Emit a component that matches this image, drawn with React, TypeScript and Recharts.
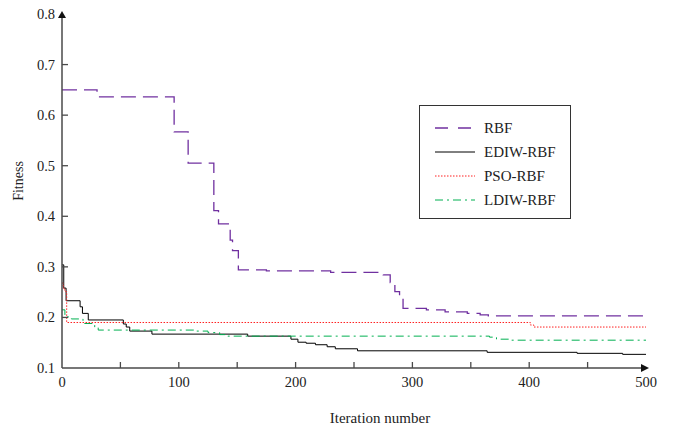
import { LineChart, Line, XAxis, YAxis, Legend } from 'recharts'

// step points: value holds from this iteration until the next point
const RBF_ITER = [0, 30, 96, 108, 130, 134, 144, 146, 151, 175, 230, 275, 281, 285, 289, 292, 312, 328, 347, 358, 365, 500]
const RBF_FIT = [0.65, 0.636, 0.567, 0.505, 0.411, 0.385, 0.353, 0.332, 0.294, 0.292, 0.289, 0.284, 0.269, 0.251, 0.245, 0.218, 0.215, 0.211, 0.208, 0.205, 0.203, 0.203]

const EDIW_ITER = [0, 1.5, 3.5, 15.5, 17.5, 22.5, 52.5, 55, 58, 77, 159, 196, 202, 209, 217, 227, 234, 253, 364, 441, 480, 500]
const EDIW_FIT = [0.304, 0.258, 0.233, 0.221, 0.208, 0.195, 0.187, 0.181, 0.173, 0.167, 0.163, 0.157, 0.151, 0.149, 0.146, 0.142, 0.138, 0.134, 0.131, 0.129, 0.127, 0.127]

const PSO_ITER = [0, 1, 2.5, 4, 401, 404, 500]
const PSO_FIT = [0.268, 0.258, 0.251, 0.19, 0.185, 0.181, 0.181]

const LDIW_ITER = [0, 2.5, 8, 18, 28, 31, 115, 125, 135, 142, 366, 372, 385, 500]
const LDIW_FIT = [0.215, 0.201, 0.197, 0.188, 0.18, 0.175, 0.173, 0.17, 0.166, 0.163, 0.161, 0.157, 0.155, 0.155]

const X_TICKS = [0, 50, 100, 150, 200, 250, 300, 350, 400, 450, 500]
const Y_TICKS = [0.1, 0.2, 0.3, 0.4, 0.5, 0.6, 0.7, 0.8]

const toRows = (xs: number[], ys: number[]) => xs.map((x, i) => ({ iter: x, fit: ys[i] }))

const FONT = '"Liberation Serif", "Times New Roman", serif'
const AXIS = '#4a4a4a'

const SERIES = [
  { name: 'RBF', data: toRows(RBF_ITER, RBF_FIT), color: '#7030A0', dash: '15 7', legendDash: '13 10', width: 1.3 },
  { name: 'EDIW-RBF', data: toRows(EDIW_ITER, EDIW_FIT), color: '#000000', dash: undefined, legendDash: undefined, width: 1 },
  { name: 'PSO-RBF', data: toRows(PSO_ITER, PSO_FIT), color: '#FF2020', dash: '1.5 1.5', legendDash: '1.5 1.5', width: 1 },
  { name: 'LDIW-RBF', data: toRows(LDIW_ITER, LDIW_FIT), color: '#00B050', dash: '8 4 2 4', legendDash: '8 4 2 4', width: 1 },
]

const YTick = ({ x, y, payload }: any) => {
  const v = payload.value
  return (
    <g>
      <text x={x} y={y + 5} textAnchor="end" fontFamily={FONT} fontSize={14.5} fill="#222">
        {v.toFixed(1)}
      </text>
      {v > 0.15 && v < 0.75 && <line x1={x + 7} x2={x + 13} y1={y} y2={y} stroke={AXIS} strokeWidth={1.3} />}
    </g>
  )
}

const XTick = ({ x, y, payload }: any) => {
  const v = payload.value
  return (
    <g>
      {v > 0 && v < 500 && <line x1={x} x2={x} y1={y} y2={y - 6} stroke={AXIS} strokeWidth={1.3} />}
      {v % 100 === 0 && (
        <text x={x} y={y + 19} textAnchor="middle" fontFamily={FONT} fontSize={14.5} fill="#222">
          {v}
        </text>
      )}
    </g>
  )
}

const YDecor = ({ viewBox }: any) => {
  const { x, y, width, height } = viewBox
  const ax = x + width
  return (
    <g>
      <polygon points={`${ax - 4},${y + 4} ${ax + 4},${y + 4} ${ax},${y - 3}`} fill="#111" />
      <text
        x={18}
        y={y + height / 2 - 10}
        transform={`rotate(-90 18 ${y + height / 2 - 10})`}
        textAnchor="middle"
        dominantBaseline="central"
        fontFamily={FONT}
        fontSize={14}
        fill="#222"
      >
        Fitness
      </text>
    </g>
  )
}

const XDecor = ({ viewBox }: any) => {
  const { x, y, width } = viewBox
  const ax = x + width
  return (
    <g>
      <polygon points={`${ax - 5},${y - 4} ${ax - 5},${y + 4} ${ax + 3},${y}`} fill="#111" />
      <text x={x + width / 2 + 26} y={y + 55} textAnchor="middle" fontFamily={FONT} fontSize={15} fill="#222">
        Iteration number
      </text>
    </g>
  )
}

const LegendBox = () => (
  <div
    style={{
      width: 152,
      height: 114,
      boxSizing: 'border-box',
      border: '1px solid #333',
      background: '#fff',
      paddingTop: 10,
      fontFamily: FONT,
      fontSize: 15,
      color: '#222',
    }}
  >
    {SERIES.map((s) => (
      <div key={s.name} style={{ display: 'flex', alignItems: 'center', height: 24 }}>
        <svg width={64} height={10} style={{ flex: 'none' }}>
          <line x1={15} x2={55} y1={5} y2={5} stroke={s.color} strokeWidth={s.width} strokeDasharray={s.legendDash} />
        </svg>
        <span>{s.name}</span>
      </div>
    ))}
  </div>
)

export default function App() {
  return (
    <div style={{ position: 'absolute', left: 0, top: 0, background: '#fff' }}>
      <LineChart width={674} height={425} margin={{ top: 14, right: 28, bottom: 27, left: 0 }}>
        <XAxis
          type="number"
          dataKey="iter"
          domain={[0, 500]}
          ticks={X_TICKS}
          interval={0}
          allowDataOverflow
          height={30}
          tickSize={0}
          tickMargin={0}
          tick={<XTick />}
          axisLine={{ stroke: AXIS, strokeWidth: 1.5 }}
          label={<XDecor />}
        />
        <YAxis
          type="number"
          domain={[0.1, 0.8]}
          ticks={Y_TICKS}
          interval={0}
          allowDataOverflow
          width={62}
          tickSize={0}
          tickMargin={7}
          tick={<YTick />}
          axisLine={{ stroke: AXIS, strokeWidth: 1.5 }}
          label={<YDecor />}
        />
        <Legend
          layout="vertical"
          align="center"
          verticalAlign="middle"
          content={<LegendBox />}
          wrapperStyle={{ left: 419, top: 105, width: 152, height: 114 }}
        />
        {SERIES.map((s) => (
          <Line
            key={s.name}
            data={s.data}
            dataKey="fit"
            name={s.name}
            type="stepAfter"
            stroke={s.color}
            strokeWidth={s.width}
            strokeDasharray={s.dash}
            dot={false}
            activeDot={false}
            isAnimationActive={false}
          />
        ))}
      </LineChart>
    </div>
  )
}
